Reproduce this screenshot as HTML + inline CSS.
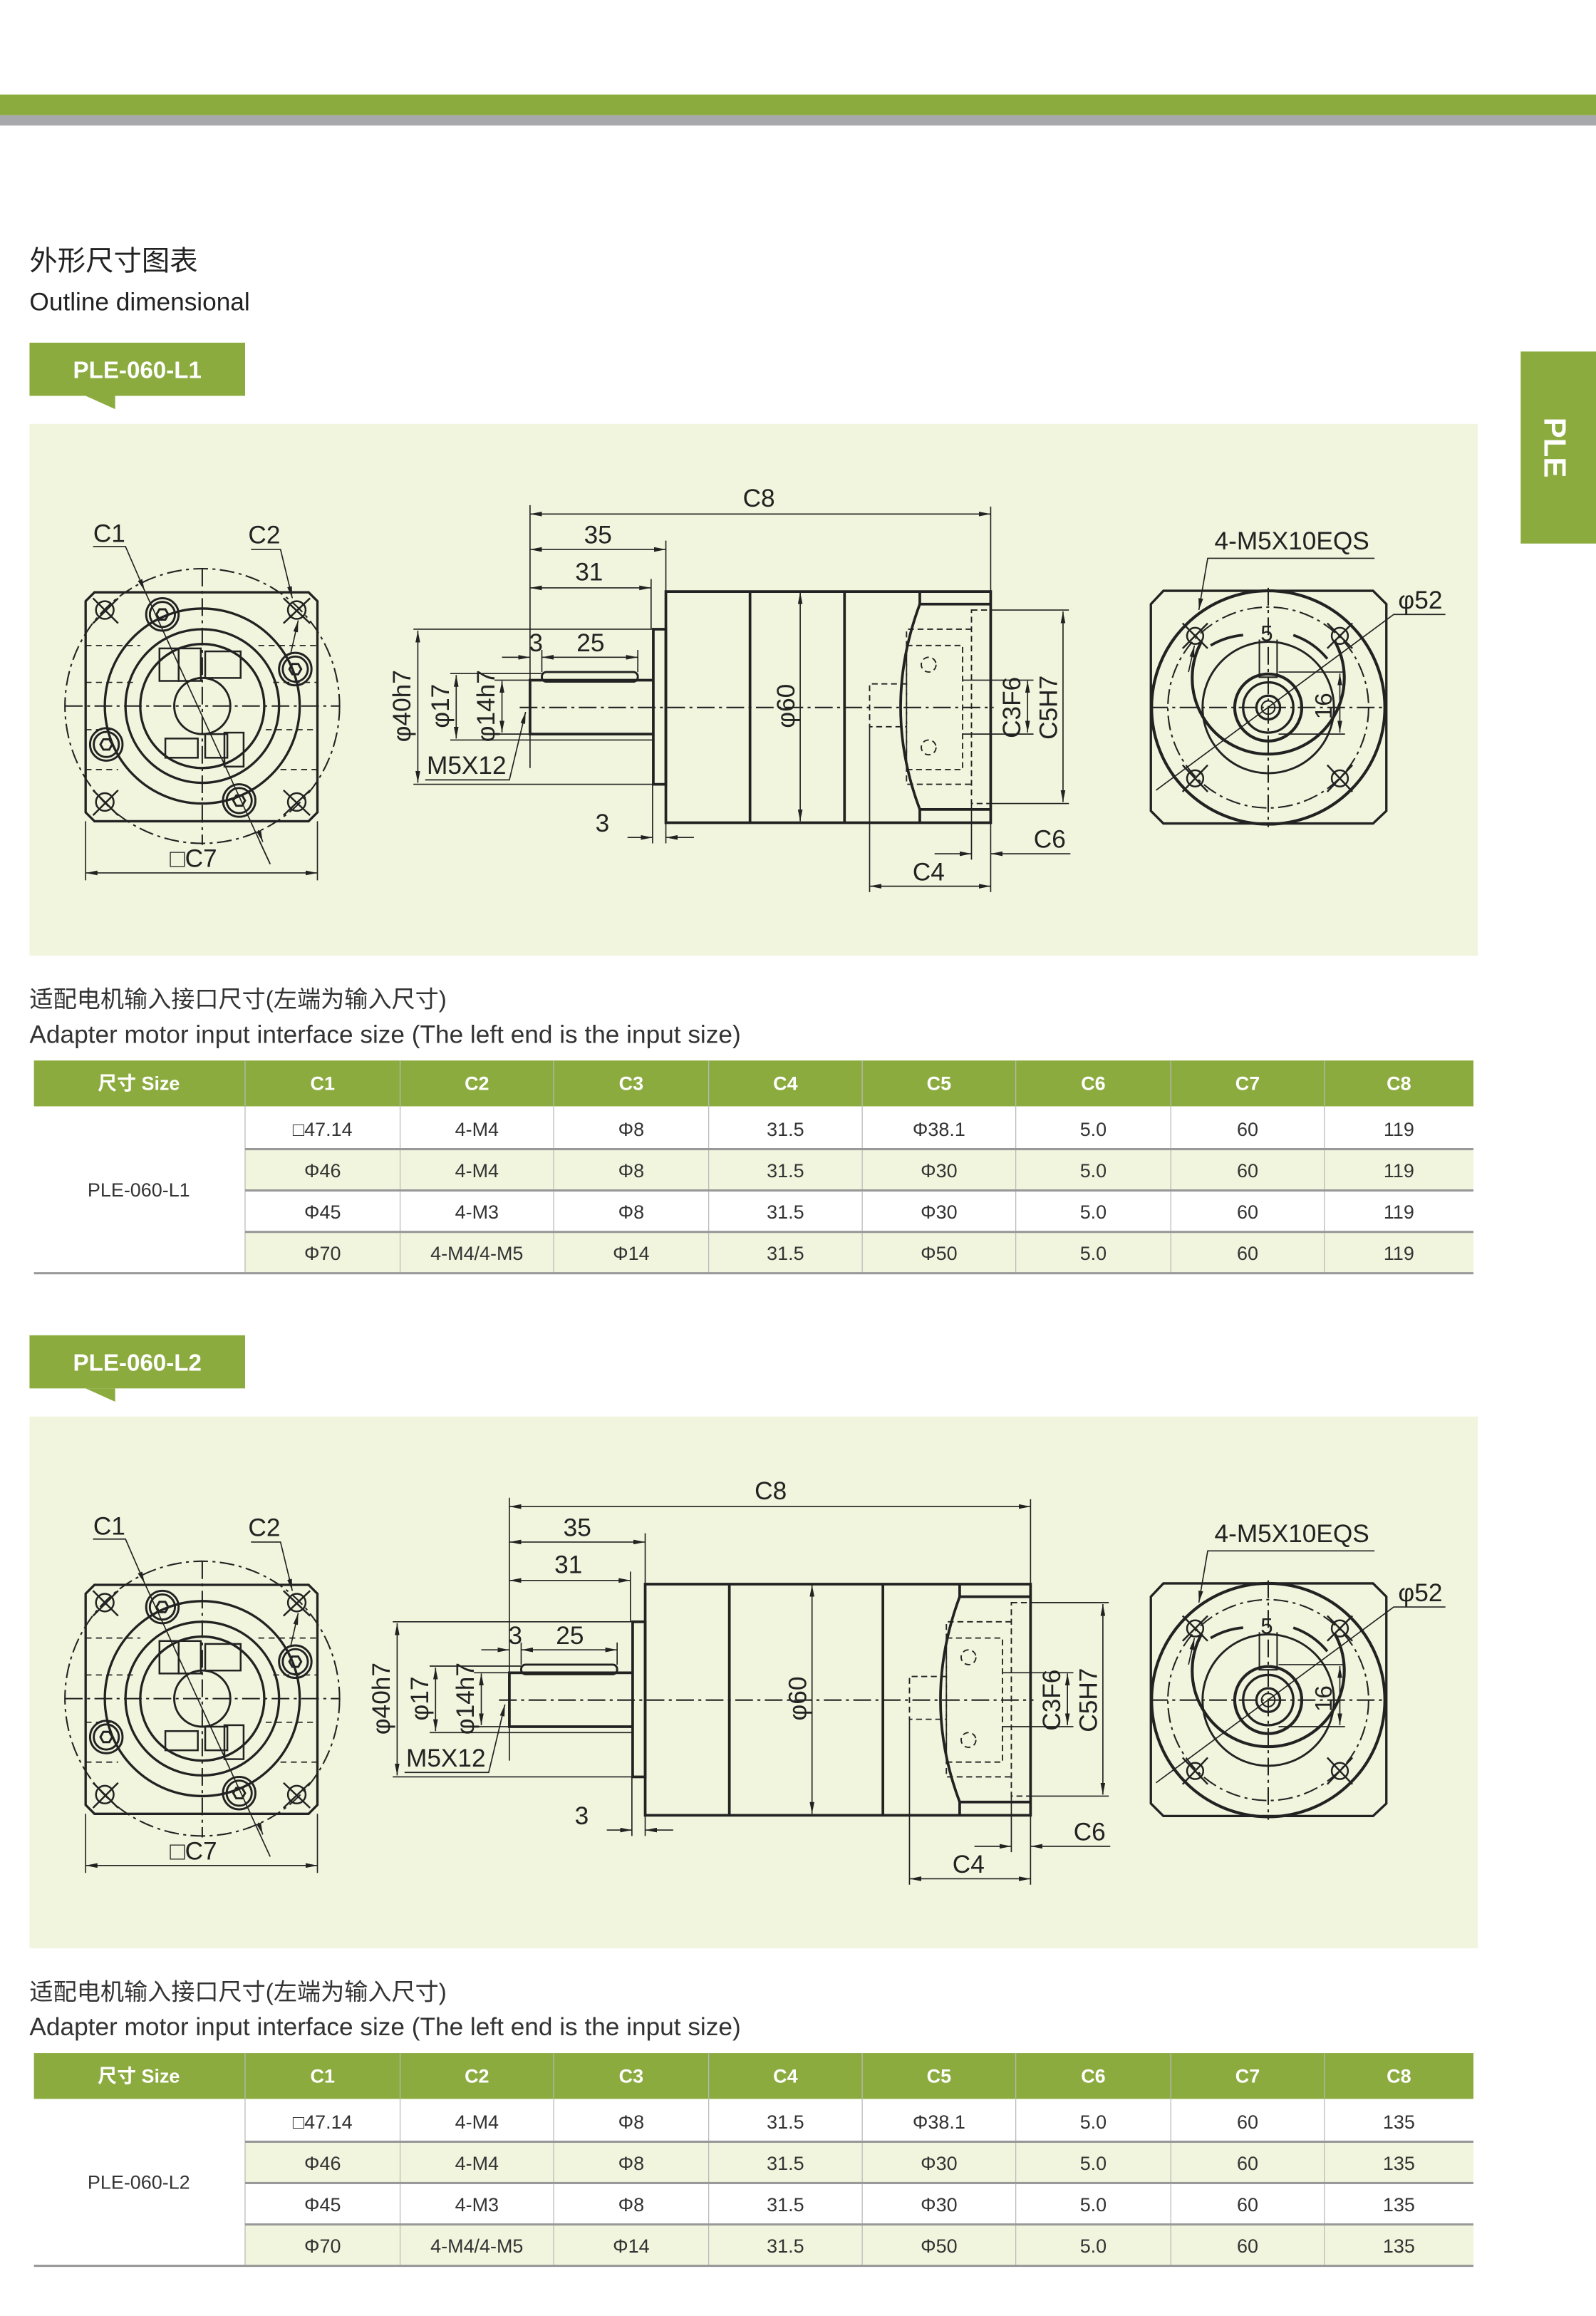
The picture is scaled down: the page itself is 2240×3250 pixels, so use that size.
<!DOCTYPE html>
<html><head><meta charset="utf-8">
<style>
html,body{margin:0;padding:0;background:#fff;}
svg{display:block;}
text{font-family:"Liberation Sans","Noto Sans CJK SC",sans-serif;}
</style></head>
<body>
<svg width="2240" height="3250" viewBox="0 0 1081 1568" preserveAspectRatio="none" xmlns="http://www.w3.org/2000/svg">
<defs>
<marker id="a" viewBox="0 0 10 4" refX="10" refY="2" markerWidth="8" markerHeight="3.2" orient="auto-start-reverse" markerUnits="userSpaceOnUse"><path d="M0,0 L10,2 L0,4 z" fill="#222"/></marker>
</defs>
<!-- top bars -->
<rect x="0" y="64" width="1081" height="14" fill="#8bab3f"/>
<rect x="0" y="78" width="1081" height="7" fill="#a7a8ab"/>
<!-- titles -->
<text x="20" y="183" font-size="19" fill="#222">外形尺寸图表</text>
<text x="20" y="210" font-size="17" fill="#222">Outline dimensional</text>
<!-- side tab -->
<rect x="1030" y="238" width="51" height="130" fill="#8bab3f"/>
<text x="0" y="0" font-size="21" font-weight="bold" fill="#fff" text-anchor="middle" transform="translate(1046,303) rotate(90)">PLE</text>

<!-- ===================== SECTION 1 ===================== -->
<g id="sec1">
<rect x="20" y="232" width="146" height="36" fill="#8bab3f"/>
<path d="M58,268 L78,268 L78,277 z" fill="#8bab3f"/>
<text x="93" y="256" font-size="16" font-weight="bold" fill="#fff" text-anchor="middle">PLE-060-L1</text>
<rect x="20" y="287" width="981" height="360" fill="#f1f5dd"/>

<g fill="none" stroke="#222">
<!-- LEFT VIEW -->
<g>
<path d="M64,401 H209 L215,407 V550 L209,556 H64 L58,550 V407 Z" stroke-width="1.6"/>
<circle cx="137" cy="478" r="93" stroke-width="1" stroke-dasharray="10,3,2,3"/>
<circle cx="137" cy="478" r="66" stroke-width="1.6"/>
<circle cx="137" cy="478" r="52" stroke-width="1.6"/>
<circle cx="137" cy="478" r="42" stroke-width="1.6"/>
<circle cx="137" cy="478" r="19" stroke-width="1.4"/>
<path d="M44,478 H230 M137,385 V572" stroke-width="1" stroke-dasharray="12,3,2,3"/>
<path d="M58,437 H95 M58,462 H90 M58,494 H75 M58,521 H80 M175,437 H215 M185,462 H215 M180,494 H215 M190,521 H215" stroke-width="0.8" stroke-dasharray="4,3"/>
<rect x="108" y="439" width="13" height="22" stroke-width="1.2"/>
<rect x="121" y="439" width="15" height="22" stroke-width="1.2"/>
<rect x="139" y="441" width="24" height="18" stroke-width="1.2"/>
<rect x="112" y="500" width="22" height="13" stroke-width="1.2"/>
<rect x="139" y="497" width="15" height="16" stroke-width="1.2"/>
<rect x="152" y="496" width="13" height="23" stroke-width="1.2"/>
<g stroke-width="1.4">
<circle cx="110" cy="416" r="11"/><circle cx="110" cy="416" r="8.5"/><path d="M114,416 L112,419.5 L108,419.5 L106,416 L108,412.5 L112,412.5 Z"/>
<circle cx="200" cy="453" r="11"/><circle cx="200" cy="453" r="8.5"/><path d="M204,453 L202,456.5 L198,456.5 L196,453 L198,449.5 L202,449.5 Z"/>
<circle cx="72" cy="504" r="11"/><circle cx="72" cy="504" r="8.5"/><path d="M76,504 L74,507.5 L70,507.5 L68,504 L70,500.5 L74,500.5 Z"/>
<circle cx="162" cy="542" r="11"/><circle cx="162" cy="542" r="8.5"/><path d="M166,542 L164,545.5 L160,545.5 L158,542 L160,538.5 L164,538.5 Z"/>
</g>
<g stroke-width="1.2">
<circle cx="71" cy="413" r="6"/><path d="M63,405 L80,422 M80,405 L63,422"/>
<circle cx="201" cy="413" r="6"/><path d="M192,405 L210,422 M210,405 L192,422"/>
<circle cx="71" cy="543" r="6"/><path d="M63,535 L80,552 M80,535 L63,552"/>
<circle cx="201" cy="543" r="6"/><path d="M192,535 L210,552 M210,535 L192,552"/>
</g>
<g stroke-width="0.8">
<path d="M63,370 H85 L98,400" marker-end="url(#a)"/>
<path d="M98,400 L183,585"/>
<path d="M176,570 L183,585" />
<path d="M170,372 H190 L198,405" marker-end="url(#a)"/>
<path d="M202,420 L197,442" marker-start="url(#a)"/>
<path d="M58,556 V596 M215,556 V596"/>
<path d="M58,591 H215" marker-start="url(#a)" marker-end="url(#a)"/>
<path d="M175,562 L178,570" marker-end="url(#a)"/>
</g>
</g>

<!-- MIDDLE: shaft group -->
<g id="shaft1">
<rect x="442.5" y="426" width="8.5" height="105" stroke-width="1.8"/>
<path d="M442,460.5 H359 V497 H442" stroke-width="1.8"/>
<rect x="367" y="455" width="65" height="6.5" rx="3" stroke-width="1.4"/>
<g stroke-width="0.8">
<path d="M280,426 H442 M280,531 H442 M305,456 H367 M335,460.5 H359 M335,497 H359 M305,501 H442"/>
<path d="M283,427 V530" marker-start="url(#a)" marker-end="url(#a)"/>
<path d="M309,457 V500" marker-start="url(#a)" marker-end="url(#a)"/>
<path d="M340,461 V496" marker-start="url(#a)" marker-end="url(#a)"/>
<path d="M359,342 V520 M451,366 V400 M441,392 V426 M367,440 V455 M432,440 V455"/>
<path d="M359,372 H451" marker-start="url(#a)" marker-end="url(#a)"/>
<path d="M359,398 H441" marker-start="url(#a)" marker-end="url(#a)"/>
<path d="M340,445 H359" marker-end="url(#a)"/>
<path d="M367,445 H432" marker-start="url(#a)" marker-end="url(#a)"/>
<path d="M288,528 H345 L356,482" marker-end="url(#a)"/>
<path d="M442,531 V571 M451,557 V571"/>
<path d="M425,567 H442" marker-end="url(#a)"/>
<path d="M470,567 H451" marker-end="url(#a)"/>
</g>
</g>
<!-- body L1 -->
<g stroke-width="1.8">
<path d="M451,400.5 H671 V557 H451 Z"/>
<path d="M508,400.5 V557 M572,400.5 V557"/>
<path d="M623,400.5 V409 H671 M623,557 V548 H671"/>
<path d="M623,409 Q597,479 623,548"/>
</g>
<path d="M542,401 V556" stroke-width="0.8" marker-start="url(#a)" marker-end="url(#a)"/>
<path d="M352,479 H673" stroke-width="1" stroke-dasharray="12,3,2,3"/>
<path d="M359,348 H671" stroke-width="0.8" marker-start="url(#a)" marker-end="url(#a)"/>
<!-- right group L1 -->
<g id="right1">
<g stroke-width="0.9" stroke-dasharray="4,2.5">
<rect x="658" y="413" width="13" height="131"/>
<path d="M658,426 H614 V531 H658"/>
<rect x="614" y="437" width="38" height="84"/>
<path d="M614,463 H589 V492 H614"/>
<circle cx="629" cy="450" r="5"/>
<circle cx="629" cy="506" r="5"/>
</g>
<g stroke-width="0.8">
<path d="M671,343 V400"/>
<path d="M652,460.5 H700 M652,497 H700 M671,413 H724 M671,544 H724"/>
<path d="M696,461 V496" marker-start="url(#a)" marker-end="url(#a)"/>
<path d="M720,414 V543" marker-start="url(#a)" marker-end="url(#a)"/>
<path d="M589,492 V604 M671,557 V604 M658,544 V582"/>
<path d="M589,600 H671" marker-start="url(#a)" marker-end="url(#a)"/>
<path d="M633,578 H658" marker-end="url(#a)"/>
<path d="M725,578 H671" marker-end="url(#a)"/>
</g>
</g>

<!-- RIGHT VIEW -->
<g>
<path d="M788,400 H930 L939,409 V549 L930,557.5 H788 L779.5,549 V409 Z" stroke-width="1.6"/>
<circle cx="859" cy="479" r="79" stroke-width="2"/>
<circle cx="859" cy="479" r="68" stroke-width="1" stroke-dasharray="10,3,2,3"/>
<path d="M814,434 A51.5,51.5 0 1 0 904,434" stroke-width="2"/>
<path d="M842,430 A51.5,51.5 0 0 0 820,437 M876,430 A51.5,51.5 0 0 1 899,446" stroke-width="1.8"/>
<circle cx="859" cy="479" r="44.5" stroke-width="1.4"/>
<circle cx="859" cy="479" r="22.7" stroke-width="2"/>
<circle cx="859" cy="479" r="17" stroke-width="1.6"/>
<circle cx="859" cy="479" r="8" stroke-width="1.6"/>
<circle cx="859" cy="479" r="4.5" stroke-width="1"/>
<path d="M779,479 H939 M859,398 V560" stroke-width="1" stroke-dasharray="12,3,2,3"/>
<path d="M853,433 V458.5 H865 V433" stroke-width="1"/>
<g stroke-width="1.2">
<circle cx="809.5" cy="430.5" r="5.5"/><path d="M801,422 L818,439 M818,422 L801,439"/>
<circle cx="907.5" cy="430.5" r="5.5"/><path d="M899,422 L916,439 M916,422 L899,439"/>
<circle cx="809.5" cy="527" r="5.5"/><path d="M801,518 L818,536 M818,518 L801,536"/>
<circle cx="907.5" cy="527" r="5.5"/><path d="M899,518 L916,536 M916,518 L899,536"/>
</g>
<g stroke-width="0.8">
<path d="M866,455 H911 M866,497 H911"/>
<path d="M907.5,456 V496" marker-start="url(#a)" marker-end="url(#a)"/>
<path d="M931,378 H818 L812,413" marker-end="url(#a)"/>
<path d="M979,416 H944 L783,535"/>
<path d="M805,455 L809,437" marker-end="url(#a)"/>
</g>
</g>
</g>
<!-- drawing texts L1 -->
<g font-size="17" fill="#222" text-anchor="middle">
<text x="74" y="367">C1</text>
<text x="179" y="368">C2</text>
<text x="131" y="587">□C7</text>
<text x="514" y="343">C8</text>
<text x="405" y="368">35</text>
<text x="399" y="393">31</text>
<text x="363" y="441">3</text>
<text x="400" y="441">25</text>
<text x="408" y="563">3</text>
<text x="316" y="524">M5X12</text>
<text x="629" y="596">C4</text>
<text x="711" y="574">C6</text>
<text transform="translate(278,478) rotate(-90)">φ40h7</text>
<text transform="translate(304,478) rotate(-90)">φ17</text>
<text transform="translate(335,478) rotate(-90)">φ14h7</text>
<text transform="translate(538,478) rotate(-90)">φ60</text>
<text transform="translate(691,479) rotate(-90)">C3F6</text>
<text transform="translate(716,479) rotate(-90)">C5H7</text>
<text x="875" y="372">4-M5X10EQS</text>
<text x="962" y="412">φ52</text>
<text x="858" y="434" font-size="15">5</text>
<text transform="translate(902,478) rotate(-90)" font-size="16">16</text>
</g>

<!-- subtitle + table L1 -->
<text x="20" y="682" font-size="16" fill="#333">适配电机输入接口尺寸(左端为输入尺寸)</text>
<text x="20" y="706" font-size="17" fill="#333">Adapter motor input interface size (The left end is the input size)</text>
<rect x="23" y="718" width="975" height="31" fill="#8bab3f"/>
<rect x="166" y="778" width="832" height="28" fill="#f1f5dd"/>
<rect x="166" y="834" width="832" height="28" fill="#f1f5dd"/>
<g stroke="#b9b9b9" stroke-width="0.6">
<path d="M166,718 V862 M271,718 V862 M375,718 V862 M480,718 V862 M584,718 V862 M688,718 V862 M793,718 V862 M897,718 V862"/>
</g>
<g stroke="#999" stroke-width="1.5">
<path d="M166,778 H998 M166,806 H998 M166,834 H998 M23,862 H998"/>
</g>
<g font-size="13" font-weight="bold" fill="#fff" text-anchor="middle">
<text x="94" y="738">尺寸 Size</text>
<text x="218.5" y="738">C1</text><text x="323" y="738">C2</text><text x="427.5" y="738">C3</text><text x="532" y="738">C4</text><text x="636" y="738">C5</text><text x="740.5" y="738">C6</text><text x="845" y="738">C7</text><text x="947.5" y="738">C8</text>
</g>
<g font-size="13" fill="#333" text-anchor="middle">
<text x="94" y="810">PLE-060-L1</text>
<text x="218.5" y="769">□47.14</text><text x="323" y="769">4-M4</text><text x="427.5" y="769">Φ8</text><text x="532" y="769">31.5</text><text x="636" y="769">Φ38.1</text><text x="740.5" y="769">5.0</text><text x="845" y="769">60</text><text x="947.5" y="769">119</text>
<text x="218.5" y="797">Φ46</text><text x="323" y="797">4-M4</text><text x="427.5" y="797">Φ8</text><text x="532" y="797">31.5</text><text x="636" y="797">Φ30</text><text x="740.5" y="797">5.0</text><text x="845" y="797">60</text><text x="947.5" y="797">119</text>
<text x="218.5" y="825">Φ45</text><text x="323" y="825">4-M3</text><text x="427.5" y="825">Φ8</text><text x="532" y="825">31.5</text><text x="636" y="825">Φ30</text><text x="740.5" y="825">5.0</text><text x="845" y="825">60</text><text x="947.5" y="825">119</text>
<text x="218.5" y="853">Φ70</text><text x="323" y="853">4-M4/4-M5</text><text x="427.5" y="853">Φ14</text><text x="532" y="853">31.5</text><text x="636" y="853">Φ50</text><text x="740.5" y="853">5.0</text><text x="845" y="853">60</text><text x="947.5" y="853">119</text>
</g>
</g>

<!-- ===================== SECTION 2 ===================== -->
<g transform="translate(0,672)">
<rect x="20" y="232" width="146" height="36" fill="#8bab3f"/>
<path d="M58,268 L78,268 L78,277 z" fill="#8bab3f"/>
<text x="93" y="256" font-size="16" font-weight="bold" fill="#fff" text-anchor="middle">PLE-060-L2</text>
<rect x="20" y="287" width="981" height="360" fill="#f1f5dd"/>

<g fill="none" stroke="#222">
<!-- LEFT VIEW -->
<g>
<path d="M64,401 H209 L215,407 V550 L209,556 H64 L58,550 V407 Z" stroke-width="1.6"/>
<circle cx="137" cy="478" r="93" stroke-width="1" stroke-dasharray="10,3,2,3"/>
<circle cx="137" cy="478" r="66" stroke-width="1.6"/>
<circle cx="137" cy="478" r="52" stroke-width="1.6"/>
<circle cx="137" cy="478" r="42" stroke-width="1.6"/>
<circle cx="137" cy="478" r="19" stroke-width="1.4"/>
<path d="M44,478 H230 M137,385 V572" stroke-width="1" stroke-dasharray="12,3,2,3"/>
<path d="M58,437 H95 M58,462 H90 M58,494 H75 M58,521 H80 M175,437 H215 M185,462 H215 M180,494 H215 M190,521 H215" stroke-width="0.8" stroke-dasharray="4,3"/>
<rect x="108" y="439" width="13" height="22" stroke-width="1.2"/>
<rect x="121" y="439" width="15" height="22" stroke-width="1.2"/>
<rect x="139" y="441" width="24" height="18" stroke-width="1.2"/>
<rect x="112" y="500" width="22" height="13" stroke-width="1.2"/>
<rect x="139" y="497" width="15" height="16" stroke-width="1.2"/>
<rect x="152" y="496" width="13" height="23" stroke-width="1.2"/>
<g stroke-width="1.4">
<circle cx="110" cy="416" r="11"/><circle cx="110" cy="416" r="8.5"/><path d="M114,416 L112,419.5 L108,419.5 L106,416 L108,412.5 L112,412.5 Z"/>
<circle cx="200" cy="453" r="11"/><circle cx="200" cy="453" r="8.5"/><path d="M204,453 L202,456.5 L198,456.5 L196,453 L198,449.5 L202,449.5 Z"/>
<circle cx="72" cy="504" r="11"/><circle cx="72" cy="504" r="8.5"/><path d="M76,504 L74,507.5 L70,507.5 L68,504 L70,500.5 L74,500.5 Z"/>
<circle cx="162" cy="542" r="11"/><circle cx="162" cy="542" r="8.5"/><path d="M166,542 L164,545.5 L160,545.5 L158,542 L160,538.5 L164,538.5 Z"/>
</g>
<g stroke-width="1.2">
<circle cx="71" cy="413" r="6"/><path d="M63,405 L80,422 M80,405 L63,422"/>
<circle cx="201" cy="413" r="6"/><path d="M192,405 L210,422 M210,405 L192,422"/>
<circle cx="71" cy="543" r="6"/><path d="M63,535 L80,552 M80,535 L63,552"/>
<circle cx="201" cy="543" r="6"/><path d="M192,535 L210,552 M210,535 L192,552"/>
</g>
<g stroke-width="0.8">
<path d="M63,370 H85 L98,400" marker-end="url(#a)"/>
<path d="M98,400 L183,585"/>
<path d="M170,372 H190 L198,405" marker-end="url(#a)"/>
<path d="M202,420 L197,442" marker-start="url(#a)"/>
<path d="M58,556 V596 M215,556 V596"/>
<path d="M58,591 H215" marker-start="url(#a)" marker-end="url(#a)"/>
<path d="M175,562 L178,570" marker-end="url(#a)"/>
</g>
</g>

<!-- shaft group shifted -->
<g transform="translate(-14,0)">
<rect x="442.5" y="426" width="8.5" height="105" stroke-width="1.8"/>
<path d="M442,460.5 H359 V497 H442" stroke-width="1.8"/>
<rect x="367" y="455" width="65" height="6.5" rx="3" stroke-width="1.4"/>
<g stroke-width="0.8">
<path d="M280,426 H442 M280,531 H442 M305,456 H367 M335,460.5 H359 M335,497 H359 M305,501 H442"/>
<path d="M283,427 V530" marker-start="url(#a)" marker-end="url(#a)"/>
<path d="M309,457 V500" marker-start="url(#a)" marker-end="url(#a)"/>
<path d="M340,461 V496" marker-start="url(#a)" marker-end="url(#a)"/>
<path d="M359,342 V520 M451,366 V400 M441,392 V426 M367,440 V455 M432,440 V455"/>
<path d="M359,372 H451" marker-start="url(#a)" marker-end="url(#a)"/>
<path d="M359,398 H441" marker-start="url(#a)" marker-end="url(#a)"/>
<path d="M340,445 H359" marker-end="url(#a)"/>
<path d="M367,445 H432" marker-start="url(#a)" marker-end="url(#a)"/>
<path d="M288,528 H345 L356,482" marker-end="url(#a)"/>
<path d="M442,531 V571 M451,557 V571"/>
<path d="M425,567 H442" marker-end="url(#a)"/>
<path d="M470,567 H451" marker-end="url(#a)"/>
</g>
</g>
<!-- body L2 -->
<g stroke-width="1.8">
<path d="M437,400.5 H698 V557 H437 Z"/>
<path d="M494,400.5 V557 M598,400.5 V557"/>
<path d="M650,400.5 V409 H698 M650,557 V548 H698"/>
<path d="M650,409 Q624,479 650,548"/>
</g>
<path d="M550,401 V556" stroke-width="0.8" marker-start="url(#a)" marker-end="url(#a)"/>
<path d="M338,479 H700" stroke-width="1" stroke-dasharray="12,3,2,3"/>
<path d="M345,348 H698" stroke-width="0.8" marker-start="url(#a)" marker-end="url(#a)"/>
<g transform="translate(27,0)">
<g stroke-width="0.9" stroke-dasharray="4,2.5">
<rect x="658" y="413" width="13" height="131"/>
<path d="M658,426 H614 V531 H658"/>
<rect x="614" y="437" width="38" height="84"/>
<path d="M614,463 H589 V492 H614"/>
<circle cx="629" cy="450" r="5"/>
<circle cx="629" cy="506" r="5"/>
</g>
<g stroke-width="0.8">
<path d="M671,343 V400"/>
<path d="M652,460.5 H700 M652,497 H700 M671,413 H724 M671,544 H724"/>
<path d="M696,461 V496" marker-start="url(#a)" marker-end="url(#a)"/>
<path d="M720,414 V543" marker-start="url(#a)" marker-end="url(#a)"/>
<path d="M589,492 V604 M671,557 V604 M658,544 V582"/>
<path d="M589,600 H671" marker-start="url(#a)" marker-end="url(#a)"/>
<path d="M633,578 H658" marker-end="url(#a)"/>
<path d="M725,578 H671" marker-end="url(#a)"/>
</g>
</g>

<!-- RIGHT VIEW -->
<g>
<path d="M788,400 H930 L939,409 V549 L930,557.5 H788 L779.5,549 V409 Z" stroke-width="1.6"/>
<circle cx="859" cy="479" r="79" stroke-width="2"/>
<circle cx="859" cy="479" r="68" stroke-width="1" stroke-dasharray="10,3,2,3"/>
<path d="M814,434 A51.5,51.5 0 1 0 904,434" stroke-width="2"/>
<path d="M842,430 A51.5,51.5 0 0 0 820,437 M876,430 A51.5,51.5 0 0 1 899,446" stroke-width="1.8"/>
<circle cx="859" cy="479" r="44.5" stroke-width="1.4"/>
<circle cx="859" cy="479" r="22.7" stroke-width="2"/>
<circle cx="859" cy="479" r="17" stroke-width="1.6"/>
<circle cx="859" cy="479" r="8" stroke-width="1.6"/>
<circle cx="859" cy="479" r="4.5" stroke-width="1"/>
<path d="M779,479 H939 M859,398 V560" stroke-width="1" stroke-dasharray="12,3,2,3"/>
<path d="M853,433 V458.5 H865 V433" stroke-width="1"/>
<g stroke-width="1.2">
<circle cx="809.5" cy="430.5" r="5.5"/><path d="M801,422 L818,439 M818,422 L801,439"/>
<circle cx="907.5" cy="430.5" r="5.5"/><path d="M899,422 L916,439 M916,422 L899,439"/>
<circle cx="809.5" cy="527" r="5.5"/><path d="M801,518 L818,536 M818,518 L801,536"/>
<circle cx="907.5" cy="527" r="5.5"/><path d="M899,518 L916,536 M916,518 L899,536"/>
</g>
<g stroke-width="0.8">
<path d="M866,455 H911 M866,497 H911"/>
<path d="M907.5,456 V496" marker-start="url(#a)" marker-end="url(#a)"/>
<path d="M931,378 H818 L812,413" marker-end="url(#a)"/>
<path d="M979,416 H944 L783,535"/>
<path d="M805,455 L809,437" marker-end="url(#a)"/>
</g>
</g>
</g>
<g font-size="17" fill="#222" text-anchor="middle">
<text x="74" y="367">C1</text>
<text x="179" y="368">C2</text>
<text x="131" y="587">□C7</text>
<text x="522" y="343">C8</text>
<text x="391" y="368">35</text>
<text x="385" y="393">31</text>
<text x="349" y="441">3</text>
<text x="386" y="441">25</text>
<text x="394" y="563">3</text>
<text x="302" y="524">M5X12</text>
<text x="656" y="596">C4</text>
<text x="738" y="574">C6</text>
<text transform="translate(264,478) rotate(-90)">φ40h7</text>
<text transform="translate(290,478) rotate(-90)">φ17</text>
<text transform="translate(321,478) rotate(-90)">φ14h7</text>
<text transform="translate(546,478) rotate(-90)">φ60</text>
<text transform="translate(718,479) rotate(-90)">C3F6</text>
<text transform="translate(743,479) rotate(-90)">C5H7</text>
<text x="875" y="372">4-M5X10EQS</text>
<text x="962" y="412">φ52</text>
<text x="858" y="434" font-size="15">5</text>
<text transform="translate(902,478) rotate(-90)" font-size="16">16</text>
</g>

<text x="20" y="682" font-size="16" fill="#333">适配电机输入接口尺寸(左端为输入尺寸)</text>
<text x="20" y="706" font-size="17" fill="#333">Adapter motor input interface size (The left end is the input size)</text>
<rect x="23" y="718" width="975" height="31" fill="#8bab3f"/>
<rect x="166" y="778" width="832" height="28" fill="#f1f5dd"/>
<rect x="166" y="834" width="832" height="28" fill="#f1f5dd"/>
<g stroke="#b9b9b9" stroke-width="0.6">
<path d="M166,718 V862 M271,718 V862 M375,718 V862 M480,718 V862 M584,718 V862 M688,718 V862 M793,718 V862 M897,718 V862"/>
</g>
<g stroke="#999" stroke-width="1.5">
<path d="M166,778 H998 M166,806 H998 M166,834 H998 M23,862 H998"/>
</g>
<g font-size="13" font-weight="bold" fill="#fff" text-anchor="middle">
<text x="94" y="738">尺寸 Size</text>
<text x="218.5" y="738">C1</text><text x="323" y="738">C2</text><text x="427.5" y="738">C3</text><text x="532" y="738">C4</text><text x="636" y="738">C5</text><text x="740.5" y="738">C6</text><text x="845" y="738">C7</text><text x="947.5" y="738">C8</text>
</g>
<g font-size="13" fill="#333" text-anchor="middle">
<text x="94" y="810">PLE-060-L2</text>
<text x="218.5" y="769">□47.14</text><text x="323" y="769">4-M4</text><text x="427.5" y="769">Φ8</text><text x="532" y="769">31.5</text><text x="636" y="769">Φ38.1</text><text x="740.5" y="769">5.0</text><text x="845" y="769">60</text><text x="947.5" y="769">135</text>
<text x="218.5" y="797">Φ46</text><text x="323" y="797">4-M4</text><text x="427.5" y="797">Φ8</text><text x="532" y="797">31.5</text><text x="636" y="797">Φ30</text><text x="740.5" y="797">5.0</text><text x="845" y="797">60</text><text x="947.5" y="797">135</text>
<text x="218.5" y="825">Φ45</text><text x="323" y="825">4-M3</text><text x="427.5" y="825">Φ8</text><text x="532" y="825">31.5</text><text x="636" y="825">Φ30</text><text x="740.5" y="825">5.0</text><text x="845" y="825">60</text><text x="947.5" y="825">135</text>
<text x="218.5" y="853">Φ70</text><text x="323" y="853">4-M4/4-M5</text><text x="427.5" y="853">Φ14</text><text x="532" y="853">31.5</text><text x="636" y="853">Φ50</text><text x="740.5" y="853">5.0</text><text x="845" y="853">60</text><text x="947.5" y="853">135</text>
</g>
</g>
</svg>
</body></html>
